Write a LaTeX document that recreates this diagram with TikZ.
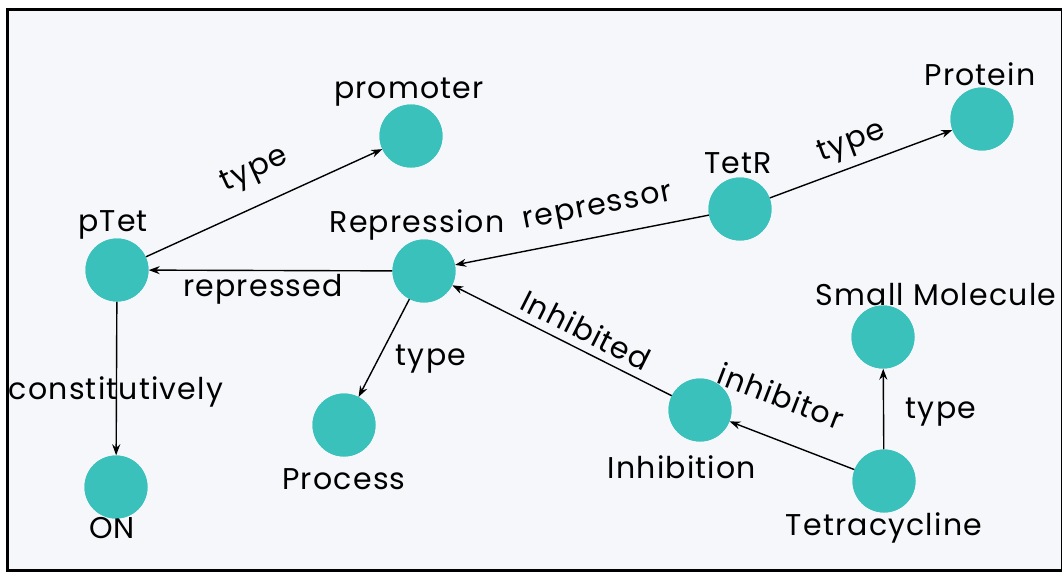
\documentclass[tikz,border=0pt]{standalone}
\usepackage{fontspec}
\setmainfont{Poppins}[LetterSpace=4]
\usetikzlibrary{arrows.meta}
\definecolor{bgc}{HTML}{F5F7FA}
\definecolor{teal}{HTML}{3BC1BB}
\tikzset{
  ent/.style={circle,fill=teal,minimum size=63pt,inner sep=0pt},
  lbl/.style={font=\fontsize{30}{34}\selectfont,inner sep=0pt,yshift=-3pt},
  rel/.style={draw=black,line width=1.4pt,-{Stealth[length=11pt,width=8pt]}},
  elbl/.style={font=\fontsize{30}{34}\selectfont,inner sep=0pt,yshift=-2pt}
}
\begin{document}
\begin{tikzpicture}[x=1pt,y=-1pt]
\useasboundingbox (0,0) rectangle (1062,571);
\node[draw=black,line width=3pt,fill=bgc,minimum width=1055pt,minimum height=561pt,inner sep=0pt,anchor=north west] (frame) at (5.5,7.5) {};
% nodes
\node[ent] (ptet) at (117,270) {};
\node[ent] (prom) at (411,136) {};
\node[ent] (rep) at (424,271) {};
\node[ent] (tetr) at (740,209) {};
\node[ent] (prot) at (982,119) {};
\node[ent] (sm) at (883,337) {};
\node[ent] (proc) at (344,425) {};
\node[ent] (inh) at (700,410) {};
\node[ent] (tc) at (884,481) {};
\node[ent] (on) at (116,487) {};
% node labels
\node[lbl] (lptet) at (113,222) {pTet};
\node[lbl] (lprom) at (409,89) {promoter};
\node[lbl] (lrep) at (417,222) {Repression};
\node[lbl] (ltetr) at (738,160) {TetR};
\node[lbl] (lprot) at (980,71) {Protein};
\node[lbl] (lsm) at (936,292) {Small Molecule};
\node[lbl] (lproc) at (344,476) {Process};
\node[lbl] (linh) at (682,464) {Inhibition};
\node[lbl] (ltc) at (884,525) {Tetracycline};
\node[lbl] (lon) at (112,525) {ON};
% edges
\draw[rel] (ptet) -- (prom);
\draw[rel] (rep) -- (ptet);
\draw[rel] (ptet) -- (on);
\draw[rel] (tetr) -- (rep);
\draw[rel] (tetr) -- (prot);
\draw[rel] (rep) -- (proc);
\draw[rel] (inh) -- (rep);
\draw[rel] (tc) -- (inh);
\draw[rel] (tc) -- (sm);
% redraw nodes over edges
\node[ent] at (ptet) {};
\node[ent] at (prom) {};
\node[ent] at (rep) {};
\node[ent] at (tetr) {};
\node[ent] at (prot) {};
\node[ent] at (sm) {};
\node[ent] at (proc) {};
\node[ent] at (inh) {};
\node[ent] at (tc) {};
\node[ent] at (on) {};
% edge labels
\node[elbl,rotate=24.5] (e1) at (255,169) {type};
\node[elbl] (e2) at (263,287) {repressed};
\node[elbl] (e3) at (116,390) {constitutively};
\node[elbl,rotate=11] (e4) at (598,208) {repressor};
\node[elbl,rotate=20.4] (e5) at (852,141) {type};
\node[elbl] (e6) at (431,357) {type};
\node[elbl,rotate=-26.7] (e7) at (586,328) {Inhibited};
\node[elbl,rotate=-21] (e8) at (781,394) {inhibitor};
\node[elbl] (e9) at (941,410) {type};
\end{tikzpicture}
\end{document}
